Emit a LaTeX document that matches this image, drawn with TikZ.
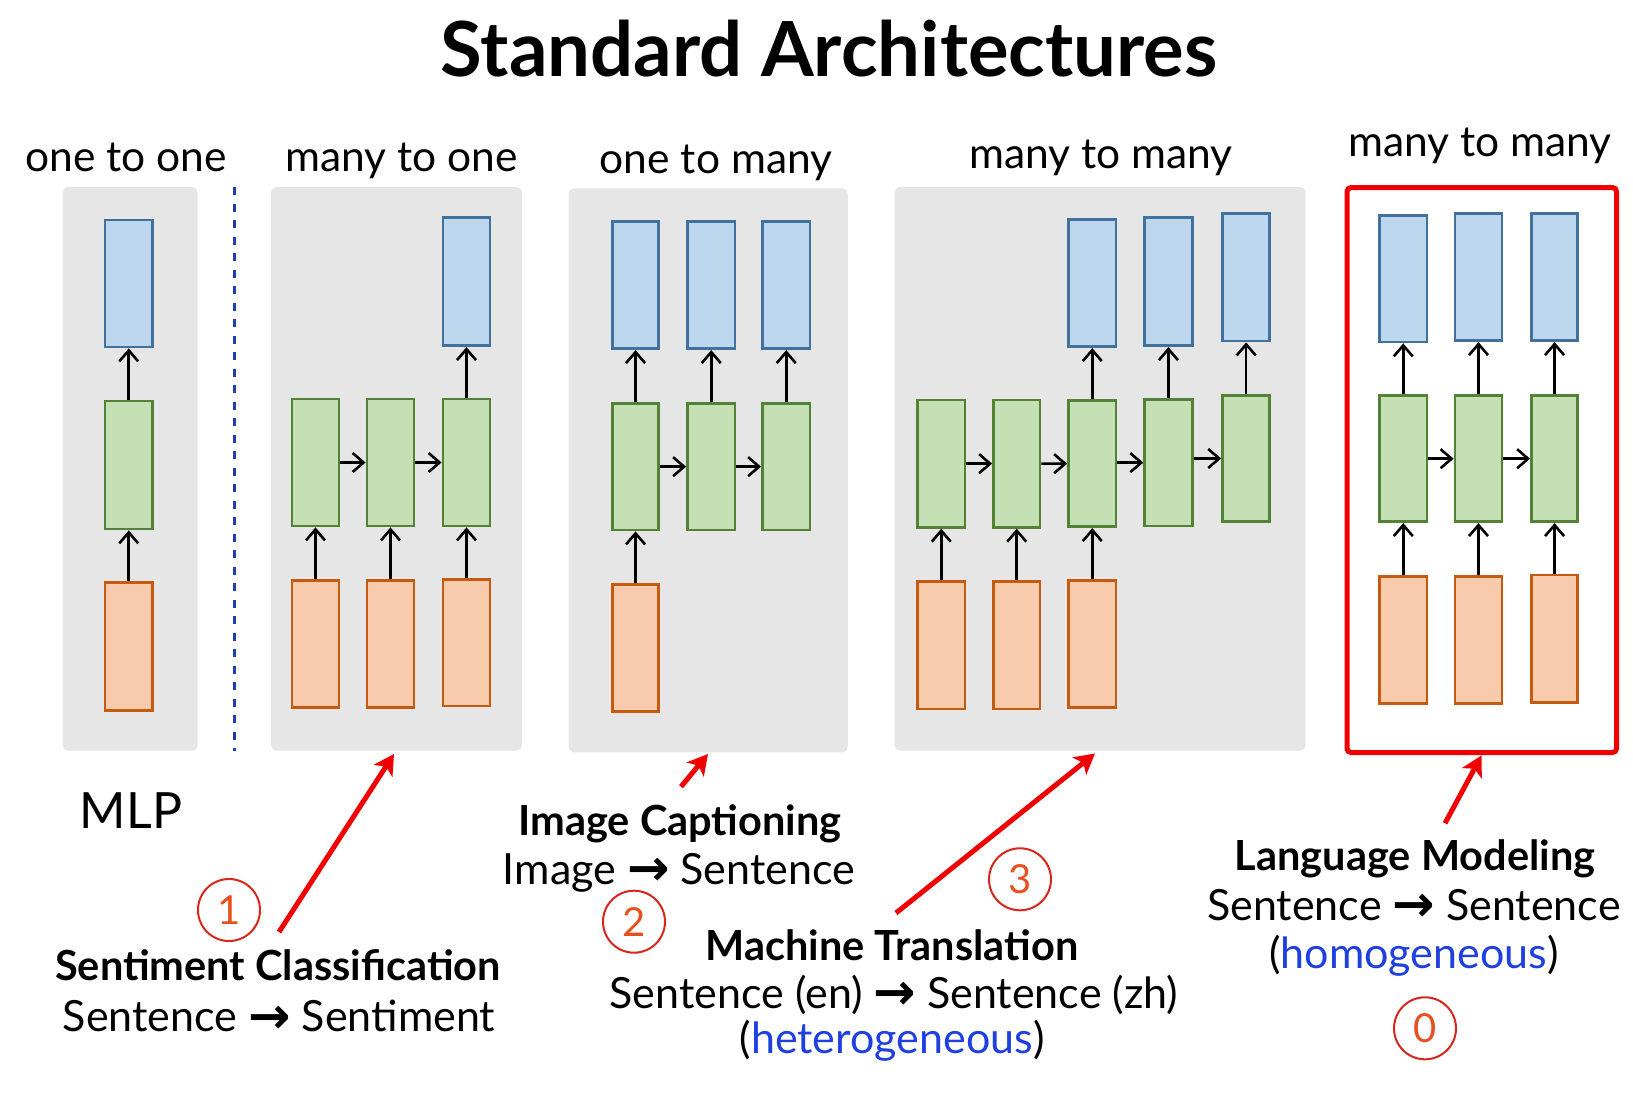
\documentclass[tikz,border=0pt]{standalone}
\usepackage{fontspec}
\setmainfont{Lato}
\newfontfamily\arrfont{DejaVu Sans}
\usetikzlibrary{arrows.meta}
\definecolor{panelgray}{HTML}{E6E6E6}
\definecolor{bfill}{HTML}{BDD7EE}
\definecolor{bdraw}{HTML}{41719C}
\definecolor{gfill}{HTML}{C5E0B4}
\definecolor{gdraw}{HTML}{548235}
\definecolor{ofill}{HTML}{F8CBAD}
\definecolor{odraw}{HTML}{C55A11}
\definecolor{hired}{HTML}{F00000}
\definecolor{circred}{HTML}{D9261C}
\definecolor{digitcol}{HTML}{E8501E}
\definecolor{wordblue}{HTML}{1F3FE0}
\definecolor{dashblue}{HTML}{1F3FB0}
\newcommand\mkbox[6]{\node[#1, minimum width={#4-#3}, minimum height={#6-#5}] (#2) at ({(#3+#4)/2},{(#5+#6)/2}) {};}
\newcommand\arr{\raisebox{-0.03em}{\scalebox{1.18}{\arrfont\bfseries →}}}
\begin{document}
\begin{tikzpicture}[x=1pt,y=-1pt,
  cell/.style={rectangle, inner sep=0pt, line width=2.8pt},
  bcell/.style={cell, fill=bfill, draw=bdraw},
  gcell/.style={cell, fill=gfill, draw=gdraw},
  ocell/.style={cell, fill=ofill, draw=odraw},
  panel/.style={rectangle, inner sep=0pt, fill=panelgray, rounded corners=6pt},
  redframe/.style={rectangle, inner sep=0pt, draw=hired, line width=5pt, rounded corners=4pt},
  flow/.style={draw=black, line width=2.6pt, -{Straight Barb[length=11pt,width=19pt,line width=2.6pt]}},
  pointer/.style={draw=hired, line width=5pt, -{Stealth[length=20pt,width=22pt,inset=5pt]}},
  numc/.style={circle, draw=circred, line width=2pt, minimum size=62pt, inner sep=0pt, text=digitcol, font=\fontsize{40}{40}\selectfont},
  toplbl/.style={anchor=base, inner sep=0pt, font=\fontsize{42.5}{42.5}\selectfont},
  boldlbl/.style={anchor=base, inner sep=0pt, font=\fontsize{41.5}{41.5}\selectfont\bfseries},
  plainlbl/.style={anchor=base, inner sep=0pt, font=\fontsize{43}{43}\selectfont}
]
\useasboundingbox (0,0) rectangle (1633,1103);
\fill[white] (0,0) rectangle (1633,1103);

% title
\node[anchor=base, inner sep=0pt, font=\fontsize{76}{76}\selectfont\bfseries] (title) at (829,76.7) {Standard Architectures};

% panels
\mkbox{panel}{P1}{62.8}{197.7}{187}{750.7}
\mkbox{panel}{P2}{271}{522}{187}{750.7}
\mkbox{panel}{P3}{568.6}{847.8}{188.3}{752.3}
\mkbox{panel}{P4}{894.6}{1305.7}{187}{750.5}
\mkbox{redframe}{P5}{1347}{1616.5}{187.5}{752.5}

% dashed separator
\coordinate (dtop) at (234.5,187);
\coordinate (dbot) at (234.5,751);
\draw[dashblue, line width=2.7pt, dash pattern=on 8pt off 8.5pt] (dtop) -- (dbot);

% panel labels
\node[toplbl] (L1) at (126,171.7) {one to one};
\node[toplbl] (L2) at (401.5,171.7) {many to one};
\node[toplbl] (L3) at (716,173.3) {one to many};
\node[toplbl] (L4) at (1101,168.3) {many to many};
\node[toplbl] (L5) at (1480,156.7) {many to many};

% ---- P1
\mkbox{bcell}{a1b}{105}{152.5}{220}{347}
\mkbox{gcell}{a1g}{105}{152.5}{401}{529}
\mkbox{ocell}{a1o}{105}{152.5}{582.7}{710.7}
\draw[flow] (a1o.north) -- (a1g.south);
\draw[flow] (a1g.north) -- (a1b.south);

% ---- P2
\mkbox{bcell}{b3b}{443}{490}{217.7}{345.7}
\mkbox{gcell}{b1g}{292}{339}{399}{526}
\mkbox{gcell}{b2g}{367}{414}{399}{526}
\mkbox{gcell}{b3g}{443}{490}{399}{526}
\mkbox{ocell}{b1o}{292}{339}{580.7}{707.7}
\mkbox{ocell}{b2o}{367}{414}{580.7}{707.7}
\mkbox{ocell}{b3o}{443}{490}{579.3}{706}
\foreach \i in {1,2,3} {\draw[flow] (b\i o.north) -- (b\i g.south);}
\draw[flow] (b1g.east) -- (b2g.west);
\draw[flow] (b2g.east) -- (b3g.west);
\draw[flow] (b3g.north) -- (b3b.south);

% ---- P3
\mkbox{bcell}{c1b}{612.5}{658.6}{221.7}{348.7}
\mkbox{bcell}{c2b}{687.5}{735}{221.7}{348.7}
\mkbox{bcell}{c3b}{762.5}{810}{221.7}{348.7}
\mkbox{gcell}{c1g}{612.5}{658.6}{403.3}{530}
\mkbox{gcell}{c2g}{687.5}{735}{403.3}{530}
\mkbox{gcell}{c3g}{762.5}{810}{403.3}{530}
\mkbox{ocell}{c1o}{612.5}{658.6}{584.3}{711.7}
\draw[flow] (c1o.north) -- (c1g.south);
\draw[flow] (c1g.east) -- (c2g.west);
\draw[flow] (c2g.east) -- (c3g.west);
\foreach \i in {1,2,3} {\draw[flow] (c\i g.north) -- (c\i b.south);}

% ---- P4
\mkbox{bcell}{d3b}{1068.5}{1116}{219.3}{346.7}
\mkbox{bcell}{d4b}{1144.7}{1192.2}{217.7}{345.7}
\mkbox{bcell}{d5b}{1222.6}{1269.7}{213.7}{341}
\mkbox{gcell}{d1g}{917.5}{965}{400}{527.3}
\mkbox{gcell}{d2g}{993.5}{1040}{400}{527.3}
\mkbox{gcell}{d3g}{1068.5}{1116}{400.7}{526.7}
\mkbox{gcell}{d4g}{1144.7}{1192.2}{399.3}{526}
\mkbox{gcell}{d5g}{1222.6}{1269.7}{395.3}{521.7}
\mkbox{ocell}{d1o}{917.5}{965}{581.7}{709}
\mkbox{ocell}{d2o}{993.5}{1040}{581.7}{709}
\mkbox{ocell}{d3o}{1068.5}{1116}{580.7}{707.7}
\foreach \i in {1,2,3} {\draw[flow] (d\i o.north) -- (d\i g.south);}
\draw[flow] (d1g.east) -- (d2g.west);
\draw[flow] (d2g.east) -- (d3g.west);
\draw[flow] (d3g.east |- d4g.west) -- (d4g.west);
\draw[flow] (d4g.east |- d5g.west) -- (d5g.west);
\foreach \i in {3,4,5} {\draw[flow] (d\i g.north) -- (d\i b.south);}

% ---- P5
\mkbox{bcell}{e1b}{1379.5}{1427}{215.7}{342}
\mkbox{bcell}{e2b}{1455}{1502}{213.7}{340.7}
\mkbox{bcell}{e3b}{1531.5}{1577.6}{213.7}{340.7}
\mkbox{gcell}{e1g}{1379.5}{1427}{395.7}{521.7}
\mkbox{gcell}{e2g}{1455}{1502}{395.7}{521.7}
\mkbox{gcell}{e3g}{1531.5}{1577.6}{395.7}{521.7}
\mkbox{ocell}{e1o}{1379.5}{1427}{576.7}{703.3}
\mkbox{ocell}{e2o}{1455}{1502}{576.7}{703.3}
\mkbox{ocell}{e3o}{1531.5}{1577.6}{575}{702.3}
\foreach \i in {1,2,3} {\draw[flow] (e\i o.north) -- (e\i g.south); \draw[flow] (e\i g.north) -- (e\i b.south);}
\draw[flow] (e1g.east) -- (e2g.west);
\draw[flow] (e2g.east) -- (e3g.west);

% ---- bottom texts
\node[anchor=base, inner sep=0pt, font=\fontsize{50}{50}\selectfont] (mlp) at (131,828.3) {MLP};

\node[boldlbl] (t1a) at (278,980.7) {Sentiment Classification};
\node[plainlbl] (t1b) at (279,1031.7) {Sentence \arr{} Sentiment};

\node[boldlbl] (t2a) at (680,835) {Image Captioning};
\node[plainlbl] (t2b) at (679,884) {Image \arr{} Sentence};

\node[boldlbl] (t3a) at (892,960) {Machine Translation};
\node[plainlbl] (t3b) at (894,1008.3) {Sentence (en) \arr{} Sentence (zh)};
\node[plainlbl] (t3c) at (892,1053.3) {(\textcolor{wordblue}{heterogeneous})};

\node[boldlbl] (t0a) at (1415,870) {Language Modeling};
\node[plainlbl] (t0b) at (1414,920) {Sentence \arr{} Sentence};
\node[plainlbl] (t0c) at (1414,968.3) {(\textcolor{wordblue}{homogeneous})};

% number circles
\node[numc] (n1) at (229,910) {1};
\node[numc] (n2) at (634,921.7) {2};
\node[numc] (n3) at (1020,879.3) {3};
\node[numc] (n0) at (1425,1028.3) {0};

% pointer arrows
\coordinate (s1) at (279,932);   \coordinate (e1) at (394,754);
\coordinate (s2) at (681,786.7); \coordinate (e2) at (708,754);
\coordinate (s3) at (896,913);   \coordinate (e3) at (1095,753.5);
\coordinate (s0) at (1445,823.3);\coordinate (e0) at (1481.5,755.5);
\draw[pointer] (s1) -- (e1);
\draw[pointer] (s2) -- (e2);
\draw[pointer] (s3) -- (e3);
\draw[pointer] (s0) -- (e0);
\end{tikzpicture}
\end{document}
